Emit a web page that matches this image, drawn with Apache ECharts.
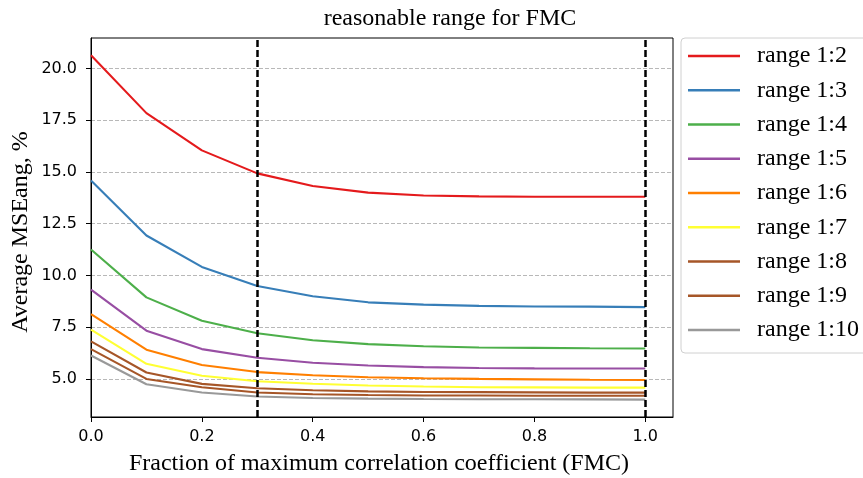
<!DOCTYPE html>
<html>
<head>
<meta charset="utf-8">
<script src="https://cdn.jsdelivr.net/npm/echarts@6/dist/echarts.min.js"></script>
<style>html,body{margin:0;padding:0;background:#fff;}#c{width:863px;height:478px;}</style>
</head>
<body>
<div id="c"></div>
<script>
const xs = [0, 0.1, 0.2, 0.3, 0.4, 0.5, 0.6, 0.7, 0.8, 0.9, 1.0];
const r2  = [20.64, 17.84, 16.04, 14.93, 14.32, 14.00, 13.86, 13.82, 13.80, 13.80, 13.80];
const r3  = [14.59, 11.93, 10.41, 9.49, 8.99, 8.70, 8.59, 8.53, 8.50, 8.49, 8.47];
const r4  = [11.25, 8.94, 7.81, 7.21, 6.87, 6.68, 6.58, 6.52, 6.50, 6.48, 6.47];
const r5  = [9.31, 7.33, 6.44, 6.02, 5.78, 5.65, 5.57, 5.53, 5.51, 5.50, 5.50];
const r6  = [8.13, 6.41, 5.67, 5.33, 5.18, 5.08, 5.03, 5.00, 4.98, 4.96, 4.95];
const r7  = [7.38, 5.73, 5.15, 4.89, 4.77, 4.68, 4.63, 4.60, 4.59, 4.58, 4.58];
const r8  = [6.81, 5.31, 4.76, 4.55, 4.45, 4.40, 4.37, 4.36, 4.35, 4.34, 4.34];
const r9  = [6.44, 5.00, 4.60, 4.34, 4.26, 4.22, 4.20, 4.20, 4.19, 4.19, 4.19];
const r10 = [6.13, 4.74, 4.34, 4.15, 4.08, 4.05, 4.03, 4.02, 4.02, 4.01, 4.00];
const seriesNames = ['range 1:2','range 1:3','range 1:4','range 1:5','range 1:6','range 1:7','range 1:8','range 1:9','range 1:10'];
const seriesValues = [r2, r3, r4, r5, r6, r7, r8, r9, r10];
const colors = ['#e41a1c','#377eb8','#4daf4a','#984ea3','#ff7f00','#ffff33','#a65628','#a65628','#999999'];
const xTicks = [0, 0.2, 0.4, 0.6, 0.8, 1.0];
const yTicks = [5, 7.5, 10, 12.5, 15, 17.5, 20];
const vLines = [0.3, 1.0];
const titleText = 'reasonable range for FMC';
const xTitle = 'Fraction of maximum correlation coefficient (FMC)';
const yTitle = 'Average MSEang, %';

const serif = '"Liberation Serif", "Times New Roman", serif';
const sans = '"DejaVu Sans", sans-serif';

const chart = echarts.init(document.getElementById('c'), null, {renderer: 'canvas'});

const series = seriesNames.map((n, i) => ({
  name: n,
  type: 'line',
  symbol: 'none',
  showSymbol: false,
  data: xs.map((x, j) => [x, seriesValues[i][j]]),
  lineStyle: {color: colors[i], width: 2.1},
  itemStyle: {color: colors[i]},
  z: 3
}));
series.push({
  name: 'vlines',
  type: 'line',
  data: [],
  z: 5,
  markLine: {
    silent: true,
    symbol: 'none',
    label: {show: false},
    lineStyle: {color: '#000', width: 2.5, type: [7, 3]},
    data: vLines.map(v => ({xAxis: v}))
  }
});

chart.setOption({
  animation: false,
  backgroundColor: '#fff',
  color: colors,
  grid: {left: 91, right: 190, top: 38, bottom: 61, show: true, borderColor: '#000', borderWidth: 1, containLabel: false},
  xAxis: {
    type: 'value', min: 0, max: 1.05,
    axisLine: {show: true, lineStyle: {color: '#000', width: 1}},
    axisTick: {show: true, length: 5, lineStyle: {color: '#000'}, customValues: xTicks},
    axisLabel: {customValues: xTicks, formatter: v => v.toFixed(1), fontFamily: sans, fontSize: 16, color: '#000', margin: 12},
    splitLine: {show: false}
  },
  yAxis: {
    type: 'value', min: 3.16, max: 21.47,
    axisLine: {show: true, lineStyle: {color: '#000', width: 1}},
    axisTick: {show: true, length: 5, lineStyle: {color: '#000'}, customValues: yTicks},
    axisLabel: {customValues: yTicks, formatter: v => v.toFixed(1), fontFamily: sans, fontSize: 16, color: '#000', margin: 14},
    splitLine: {show: true, lineStyle: {color: '#b8b8b8', width: 1, type: [4, 2]}}
  },
  legend: {
    data: seriesNames,
    orient: 'vertical',
    left: 681, top: 38,
    icon: 'rect',
    itemWidth: 52, itemHeight: 2.5, itemGap: 10.25,
    padding: [6, 60, 11, 7],
    borderColor: '#d0d0d0', borderWidth: 1, borderRadius: 4,
    backgroundColor: '#fff',
    textStyle: {fontFamily: serif, fontSize: 24, color: '#000', lineHeight: 24, padding: [0, 0, 0, 12]}
  },
  graphic: [
    {type: 'text', x: 450, y: 19, style: {text: titleText, font: '24px ' + serif, fill: '#000', textAlign: 'center', textVerticalAlign: 'middle'}},
    {type: 'text', x: 379, y: 464, style: {text: xTitle, font: '24px ' + serif, fill: '#000', textAlign: 'center', textVerticalAlign: 'middle'}},
    {type: 'text', x: 21, y: 232, rotation: Math.PI / 2, style: {text: yTitle, font: '24px ' + serif, fill: '#000', textAlign: 'center', textVerticalAlign: 'middle'}}
  ],
  series: series
});
</script>
</body>
</html>
